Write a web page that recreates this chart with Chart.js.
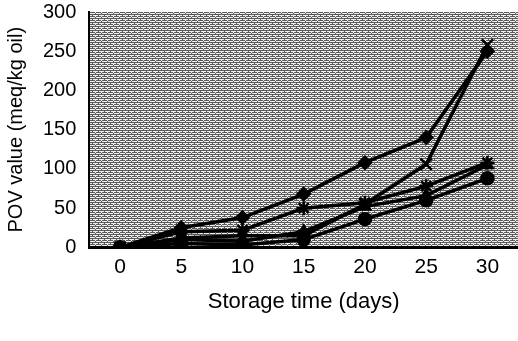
<!DOCTYPE html>
<html>
<head>
<meta charset="utf-8">
<script src="https://cdn.jsdelivr.net/npm/chart.js@4"></script>
<style>
  html, body { margin: 0; padding: 0; background: #fff; }
  #wrap { width: 518px; height: 341px; }
</style>
</head>
<body>
<div id="wrap"><canvas id="myChart" width="518" height="341"></canvas></div>
<script>
const dias = ['0', '5', '10', '15', '20', '25', '30'];
const serieA = [0, 25, 38, 68, 108, 140, 250];
const serieB = [0, 12, 15, 15, 55, 106, 258];
const serieC = [0, 20, 22, 50, 57, 78, 108];
const serieD = [0, 10, 8, 20, 52, 66, 105];
const serieE = [0, 5, 3, 10, 36, 60, 88];
const yTicks = [0, 50, 100, 150, 200, 250, 300];

// fondo gris punteado como en la figura original
function makePattern() {
    const c = document.createElement('canvas');
    c.width = 6; c.height = 4;
    const g = c.getContext('2d');
    g.fillStyle = '#5a5a5a';
    g.fillRect(0, 0, 6, 4);
    g.fillStyle = '#efefef';
    g.fillRect(0, 1, 5, 1);
    g.fillRect(3, 3, 3, 1);
    g.fillRect(0, 3, 2, 1);
    g.fillRect(5, 0, 1, 1);
    return g.createPattern(c, 'repeat');
}

const fondo = {
    id: 'fondo',
    beforeDraw(chart) {
        const { ctx, chartArea: a } = chart;
        ctx.save();
        ctx.fillStyle = makePattern();
        ctx.fillRect(a.left, a.top, a.right - a.left, a.bottom - a.top);
        ctx.restore();
    }
};

function serie(data, estilo, radio) {
    return {
        data: data,
        borderColor: '#000',
        backgroundColor: '#000',
        borderWidth: 3.5,
        pointStyle: estilo,
        pointRadius: radio,
        pointBorderWidth: 2.5,
        tension: 0
    };
}

// sin márgenes extra de las escalas, así el área queda donde la pongo
function sinPadding(scale) {
    scale.paddingTop = 0;
    scale.paddingBottom = 0;
    scale.paddingLeft = 0;
    scale.paddingRight = 0;
}

Chart.defaults.font.family = '"Liberation Sans", Arial, sans-serif';
Chart.defaults.color = '#000';

const ctx = document.getElementById('myChart').getContext('2d');
new Chart(ctx, {
    type: 'line',
    data: {
        labels: dias,
        datasets: [
            serie(serieA, 'rectRot', 6),
            serie(serieB, 'crossRot', 8),
            serie(serieC, 'star', 7),
            serie(serieD, 'triangle', 6),
            serie(serieE, 'circle', 6)
        ]
    },
    plugins: [fondo],
    options: {
        responsive: false,
        animation: false,
        layout: { autoPadding: false, padding: { top: 12, right: 0, bottom: 22, left: 0 } },
        plugins: { legend: { display: false }, tooltip: { enabled: false } },
        scales: {
            x: {
                type: 'category',
                offset: true,
                afterFit: sinPadding,
                grid: { display: false, drawTicks: false },
                border: { color: '#000', width: 3 },
                ticks: { font: { size: 21 }, padding: 7, maxRotation: 0 },
                title: { display: true, text: 'Storage time (days)', font: { size: 22 }, padding: { top: 2 } }
            },
            y: {
                min: 0,
                max: 300,
                afterFit: sinPadding,
                afterBuildTicks(axis) { axis.ticks = yTicks.map(v => ({ value: v })); },
                grid: { display: false, drawTicks: false },
                border: { color: '#000', width: 2 },
                ticks: { font: { size: 20 }, padding: 13 },
                title: { display: true, text: 'POV value (meq/kg oil)', font: { size: 20 }, padding: { bottom: 2 } }
            }
        }
    }
});
</script>
</body>
</html>
